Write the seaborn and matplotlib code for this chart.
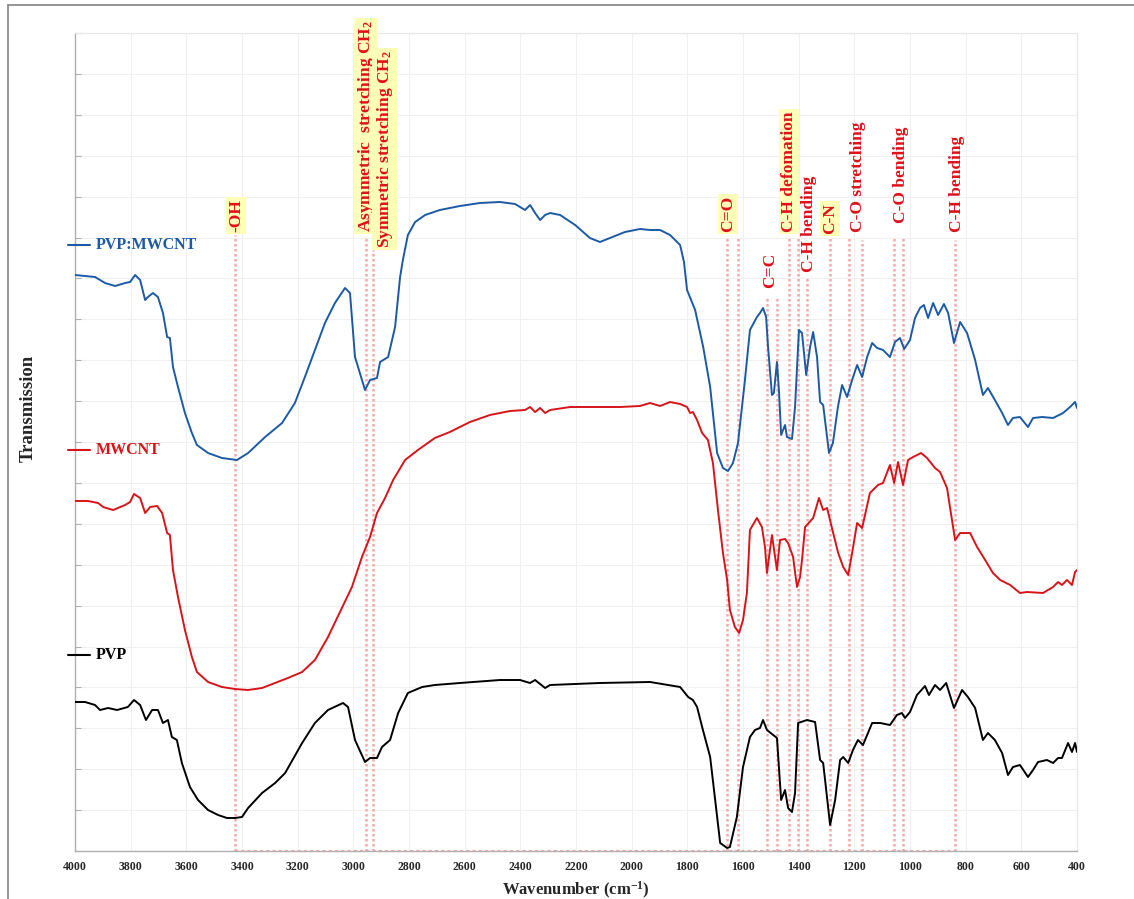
import numpy as np
import pandas as pd
import matplotlib
matplotlib.use("Agg")
import matplotlib.pyplot as plt
import seaborn as sns
from matplotlib.lines import Line2D

# ---------------- data (wavenumber in cm^-1, transmission in arbitrary units) ----------------
WN_BLEND = [4000, 3928, 3910, 3892, 3856, 3820, 3802, 3784, 3766, 3748,
            3738, 3720, 3702, 3684, 3669, 3659, 3648, 3630, 3605, 3580,
            3562, 3522, 3472, 3418, 3378, 3317, 3256, 3210, 3174, 3138,
            3102, 3066, 3030, 3012, 2994, 2958, 2940, 2915, 2904, 2875,
            2850, 2832, 2822, 2804, 2778, 2742, 2689, 2617, 2545, 2473,
            2419, 2383, 2365, 2347, 2329, 2311, 2293, 2257, 2203, 2150,
            2114, 2078, 2024, 1970, 1934, 1898, 1862, 1826, 1812, 1801,
            1772, 1743, 1718, 1693, 1672, 1654, 1636, 1618, 1593, 1575,
            1550, 1539, 1528, 1517, 1510, 1496, 1489, 1478, 1471, 1463,
            1449, 1442, 1424, 1413, 1399, 1388, 1373, 1359, 1348, 1334,
            1323, 1312, 1291, 1277, 1259, 1244, 1226, 1208, 1190, 1172,
            1154, 1136, 1118, 1097, 1072, 1054, 1036, 1021, 1000, 982,
            964, 950, 935, 917, 899, 878, 863, 842, 820, 795,
            766, 738, 720, 695, 669, 648, 630, 605, 576, 558,
            525, 486, 450, 425, 407, 400]
T_BLEND = [576, 574, 571, 568, 565, 568, 569, 576, 571, 551,
           554, 558, 554, 538, 514, 513, 484, 464, 438, 418,
           406, 398, 393, 391, 398, 414, 428, 448, 474, 501,
           528, 548, 563, 558, 494, 461, 471, 473, 489, 494,
           524, 574, 591, 616, 629, 636, 641, 645, 648, 649,
           647, 641, 646, 638, 631, 636, 638, 636, 626, 613,
           609, 613, 619, 622, 621, 621, 616, 606, 589, 561,
           541, 504, 464, 398, 383, 380, 388, 408, 471, 521,
           534, 538, 543, 534, 504, 456, 458, 489, 461, 416,
           426, 414, 412, 444, 521, 518, 476, 504, 519, 494,
           449, 446, 398, 408, 444, 466, 454, 471, 486, 474,
           494, 508, 503, 501, 494, 509, 513, 502, 511, 533,
           543, 546, 533, 548, 536, 547, 538, 508, 529, 518,
           491, 456, 463, 451, 438, 426, 433, 434, 424, 433,
           434, 433, 438, 444, 449, 443]

WN_MWCNT = [4000, 3953, 3917, 3899, 3863, 3820, 3802, 3788, 3766, 3748,
            3730, 3705, 3687, 3669, 3659, 3648, 3630, 3605, 3580, 3562,
            3522, 3472, 3425, 3378, 3328, 3281, 3235, 3184, 3138, 3091,
            3041, 3005, 2969, 2940, 2915, 2886, 2857, 2814, 2768, 2707,
            2653, 2581, 2509, 2437, 2383, 2365, 2347, 2329, 2311, 2293,
            2221, 2114, 2042, 1970, 1934, 1898, 1862, 1826, 1801, 1790,
            1780, 1765, 1747, 1726, 1708, 1690, 1672, 1657, 1647, 1629,
            1614, 1600, 1586, 1575, 1550, 1532, 1521, 1514, 1496, 1478,
            1467, 1449, 1438, 1420, 1406, 1395, 1388, 1377, 1348, 1327,
            1312, 1298, 1276, 1258, 1240, 1222, 1208, 1190, 1172, 1144,
            1115, 1097, 1072, 1057, 1043, 1025, 1007, 989, 960, 939,
            910, 892, 867, 853, 838, 820, 784, 759, 730, 702,
            676, 640, 605, 579, 522, 486, 468, 454, 436, 418,
            407, 400]
T_MWCNT = [350, 350, 348, 344, 341, 346, 349, 357, 353, 338,
           344, 345, 338, 318, 316, 281, 254, 221, 194, 179,
           169, 164, 162, 161, 163, 168, 173, 179, 191, 214,
           243, 264, 294, 314, 338, 353, 371, 391, 401, 413,
           419, 429, 436, 440, 441, 444, 439, 443, 438, 441,
           444, 444, 444, 445, 448, 445, 449, 447, 444, 438,
           439, 431, 418, 411, 388, 341, 298, 271, 241, 224,
           218, 231, 258, 321, 333, 324, 304, 278, 316, 281,
           311, 312, 308, 294, 264, 274, 291, 324, 333, 353,
           341, 343, 318, 298, 284, 276, 298, 328, 323, 358,
           366, 368, 386, 368, 389, 366, 391, 394, 398, 393,
           383, 379, 363, 338, 311, 318, 318, 304, 291, 278,
           271, 266, 258, 259, 258, 264, 269, 266, 271, 266,
           279, 281]

WN_PVP = [4000, 3964, 3928, 3910, 3881, 3849, 3810, 3788, 3766, 3745,
          3723, 3702, 3684, 3666, 3652, 3634, 3616, 3587, 3558, 3522,
          3486, 3454, 3425, 3400, 3378, 3328, 3281, 3245, 3184, 3138,
          3091, 3037, 3019, 2994, 2958, 2940, 2915, 2897, 2868, 2839,
          2804, 2753, 2707, 2617, 2473, 2401, 2365, 2347, 2311, 2293,
          2114, 1934, 1826, 1797, 1780, 1765, 1744, 1718, 1700, 1682,
          1657, 1647, 1622, 1600, 1575, 1557, 1539, 1528, 1514, 1478,
          1463, 1449, 1438, 1424, 1413, 1402, 1370, 1341, 1323, 1312,
          1287, 1269, 1251, 1240, 1222, 1205, 1187, 1169, 1136, 1107,
          1072, 1047, 1029, 1018, 1000, 975, 946, 932, 910, 892,
          870, 860, 842, 813, 792, 766, 738, 720, 695, 669,
          648, 630, 605, 576, 558, 540, 508, 486, 468, 454,
          432, 418, 407, 400]
T_PVP = [149, 149, 146, 141, 143, 141, 144, 151, 146, 131,
         141, 141, 128, 131, 114, 111, 88, 64, 51, 41,
         36, 33, 33, 34, 43, 58, 68, 78, 108, 128,
         141, 148, 144, 111, 89, 93, 93, 104, 111, 138,
         158, 164, 166, 168, 171, 171, 168, 171, 163, 166,
         168, 169, 164, 154, 151, 144, 121, 94, 51, 8,
         3, 4, 34, 84, 114, 121, 123, 131, 121, 113,
         51, 61, 43, 39, 58, 128, 131, 129, 91, 88,
         26, 51, 91, 94, 88, 101, 111, 106, 128, 128,
         126, 136, 138, 133, 139, 156, 165, 156, 166, 161,
         168, 159, 143, 161, 154, 143, 111, 118, 111, 98,
         76, 84, 86, 74, 81, 89, 91, 88, 93, 93,
         108, 99, 108, 99]

SERIES = ["PVP:MWCNT", "MWCNT", "PVP"]
SERIES_COLORS = ["#1c5aa6", "#d7141a", "#000000"]
SERIES_LABEL_Y = [606, 401, 196]

# marker lines (band positions) and their top ends
BAND_WN = [3425, 2955, 2930, 1657, 1618, 1514, 1478, 1435, 1402, 1370,
           1287, 1219, 1172, 1057, 1025, 838]
BAND_TOP = [616, 614, 601, 615, 615, 553, 553, 613, 613, 574,
            613, 613, 611, 613, 613, 611]

# annotations
ANN_TEXT = ["-OH", "Asymmetric  stretching CH$_2$", "Symmetric stretching CH$_2$",
            "C=O", "C=C", "C-H defomation", "C-H bending", "C-N",
            "C-O stretching", "C-O bending", "C-H bending"]
ANN_WN = [3422, 2954, 2888, 1654, 1503, 1435, 1363, 1287, 1187, 1032, 831]
ANN_Y = [619, 619, 603, 619, 563, 619, 579, 617, 619, 628, 619]
ANN_HL = [True, True, True, True, False, True, False, True, False, False, False]

X_TICKS = list(range(400, 4001, 200))

# ---------------- style ----------------
sns.set_style("white")
plt.rcParams["font.family"] = ["Liberation Serif", "DejaVu Serif"]
plt.rcParams["font.weight"] = "bold"
plt.rcParams["mathtext.fontset"] = "custom"
plt.rcParams["mathtext.rm"] = "Liberation Serif:bold"
plt.rcParams["mathtext.it"] = "Liberation Serif:bold"
plt.rcParams["mathtext.bf"] = "Liberation Serif:bold"
plt.rcParams["mathtext.default"] = "rm"
plt.rcParams["lines.solid_joinstyle"] = "round"

W, H = 1134, 899
fig = plt.figure(figsize=(W / 100, H / 100), dpi=100)
fig.patch.set_facecolor("white")
ax = fig.add_axes([75 / W, 1 - 851 / H, (1077 - 75) / W, (851 - 33) / H])

frames = []
for name, wn, t in zip(SERIES, [WN_BLEND, WN_MWCNT, WN_PVP], [T_BLEND, T_MWCNT, T_PVP]):
    frames.append(pd.DataFrame({"Wavenumber": wn, "Transmission": t, "Sample": name}))
df = pd.concat(frames, ignore_index=True)

# band marker lines (drawn first, under the spectra)
band_color = "#f4a9a9"
for wn, top in zip(BAND_WN, BAND_TOP):
    ax.plot([wn, wn], [0, top], color=band_color, lw=1.8,
            linestyle=(0, (1, 1)), zorder=1, solid_capstyle="butt")
ax.plot([BAND_WN[0], BAND_WN[-1]], [0.5, 0.5], color=band_color, lw=1.5,
        linestyle=(0, (1.5, 1.5)), zorder=1, clip_on=False)

sns.lineplot(data=df, x="Wavenumber", y="Transmission", hue="Sample",
             palette=dict(zip(SERIES, SERIES_COLORS)), estimator=None,
             sort=True, lw=1.4, ax=ax, zorder=3)
if ax.get_legend() is not None:
    ax.get_legend().remove()

ax.set_xlim(4000, 400)
ax.set_ylim(0, 818)
ax.set_xticks(X_TICKS)
ax.set_xticklabels([str(v) for v in X_TICKS])
ax.set_yticks(np.arange(0, 819, 40.9))
ax.set_yticklabels([])
ax.grid(True, color="#f0f0f0", lw=0.8, zorder=0)
ax.set_axisbelow(True)
for side in ["top", "right"]:
    ax.spines[side].set_color("#e6e6e6")
    ax.spines[side].set_linewidth(0.8)
for side in ["left", "bottom"]:
    ax.spines[side].set_color("#b0b0b0")
    ax.spines[side].set_linewidth(1.0)
ax.tick_params(axis="x", direction="out", length=4, color="#b0b0b0",
               labelsize=8.5, pad=3)
ax.tick_params(axis="y", direction="in", length=4, color="#b0b0b0", left=True)
for lab in ax.get_xticklabels():
    lab.set_fontweight("bold")

ax.set_xlabel("Wavenumber (cm$^{-1}$)", fontsize=12, fontweight="bold", labelpad=5)
ax.set_ylabel("")
fig.text(28 / W, 1 - 408 / H, "Transmission", rotation=90, ha="center",
         va="center", fontsize=13.5, fontweight="bold")

# series labels
for name, col, y in zip(SERIES, SERIES_COLORS, SERIES_LABEL_Y):
    ax.plot([4025, 3946], [y, y], color=col, lw=1.5, clip_on=False, zorder=4)
    ax.text(3925, y, name, color=col, fontsize=11.5, fontweight="bold",
            ha="left", va="center", zorder=4)

# band annotations
for txt, wn, y, hl in zip(ANN_TEXT, ANN_WN, ANN_Y, ANN_HL):
    kw = {}
    if hl:
        kw["bbox"] = dict(boxstyle="square,pad=0.12", fc="#ffffb8", ec="none")
    ax.text(wn, y, txt, rotation=90, ha="center", va="bottom", color="#e0101a",
            fontsize=12.5, fontweight="bold", zorder=5, **kw)

# outer frame lines of the figure
fig.add_artist(Line2D([8 / W, 8 / W], [0, 1 - 5 / H], transform=fig.transFigure,
                      color="#8c8c8c", lw=1.3))
fig.add_artist(Line2D([8 / W, 1], [1 - 5 / H, 1 - 5 / H], transform=fig.transFigure,
                      color="#8c8c8c", lw=1.3))

fig.savefig("out.png", dpi=100, facecolor="white")
